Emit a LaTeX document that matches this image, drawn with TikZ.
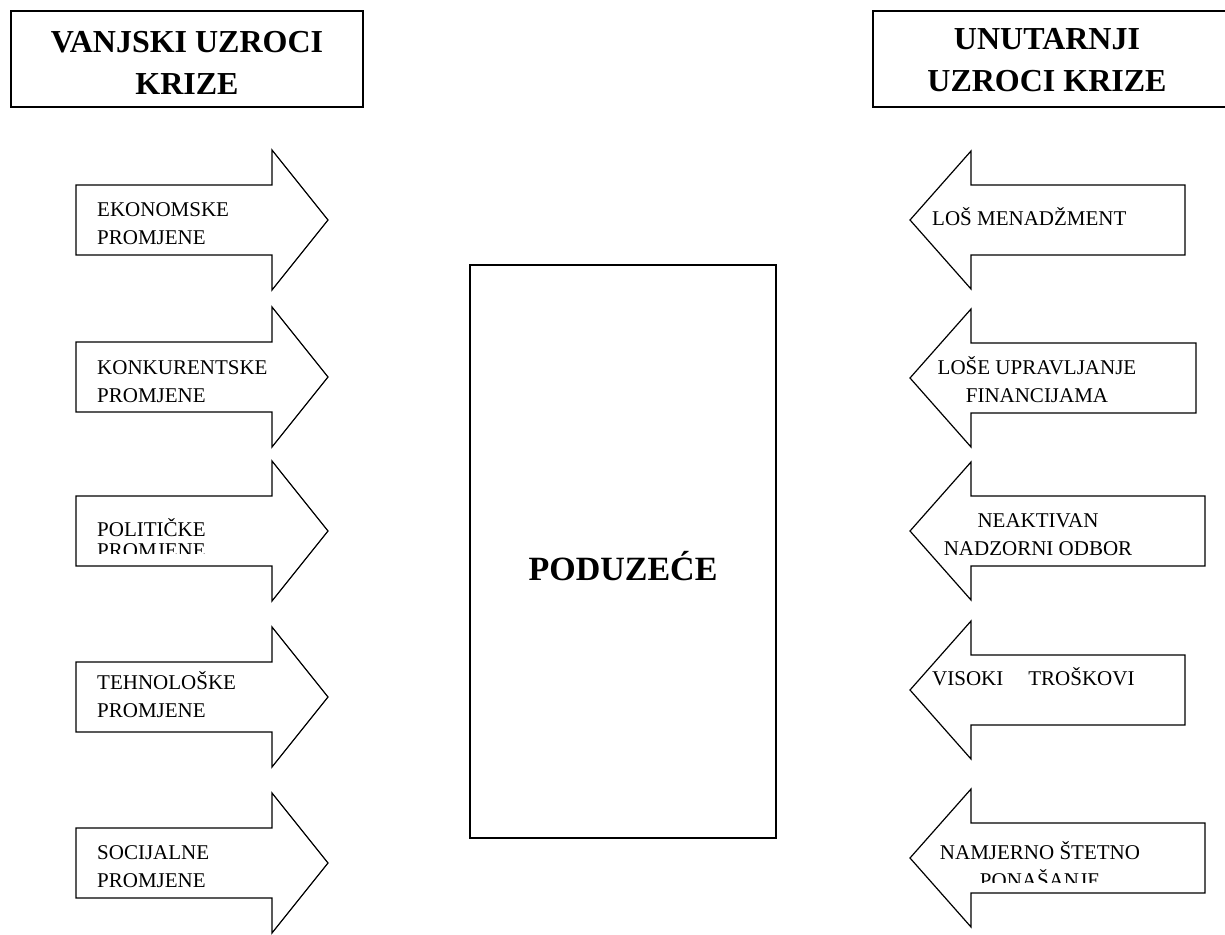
\documentclass[tikz,border=0pt]{standalone}
\usepackage{fontspec}
\setmainfont{Liberation Serif}
\usetikzlibrary{positioning}

\begin{document}
\begin{tikzpicture}[
  x=1pt, y=-1pt,
  titlebox/.style={rectangle, draw, line width=1.4pt, minimum width=352pt, minimum height=96pt},
  titletext/.style={font=\fontsize{32}{42}\selectfont\bfseries, align=center, inner sep=0pt, anchor=base},
  cause/.style={draw, line width=1.2pt, line join=miter},
  causetext/.style={font=\fontsize{21}{28}\selectfont, inner sep=0pt},
  firmbox/.style={rectangle, draw, line width=1.4pt, minimum width=306pt, minimum height=573pt}
]
\useasboundingbox (0,0) rectangle (1225,934);

% =======================================================
%                     HEADINGS
% =======================================================
\node[titlebox] (outer) at (187,59) {};
\node[titletext] (outerlabel) at (187,94) {VANJSKI UZROCI\\KRIZE};
\node[titlebox, minimum width=356pt] (inner) at (1051,59) {};
\node[titletext] (innerlabel) at (1047,92) {UNUTARNJI\\UZROCI KRIZE};

% =======================================================
%                     COMPANY
% =======================================================
\node[firmbox] (firm) at (623,551.5) {};
\node[font=\fontsize{34}{40}\selectfont\bfseries, inner sep=0pt, anchor=base] (firmlabel) at (623,580) {PODUZEĆE};

% =======================================================
%                     EXTERNAL CAUSES (left)
% =======================================================
\foreach \c in {220,377,531,697,863}
  \draw[cause] (76,\c-35) -- (272,\c-35) -- (272,\c-70) -- (328,\c)
    -- (272,\c+70) -- (272,\c+35) -- (76,\c+35) -- cycle;

\node[causetext, anchor=base west, align=left] (ext1) at (97,244) {EKONOMSKE\\PROMJENE};
\node[causetext, anchor=base west, align=left] (ext2) at (97,402) {KONKURENTSKE\\PROMJENE};
\begin{scope}
  \clip (0,0) rectangle (1225,553);
  \node[causetext, anchor=base west, align=left] (ext3) at (97,557) {POLITIČKE\\[-7pt]PROMJENE};
\end{scope}
\node[causetext, anchor=base west, align=left] (ext4) at (97,717) {TEHNOLOŠKE\\PROMJENE};
\node[causetext, anchor=base west, align=left] (ext5) at (97,887) {SOCIJALNE\\PROMJENE};

% =======================================================
%                     INTERNAL CAUSES (right)
% =======================================================
\foreach \c/\r in {220/1185,378/1196,531/1205,690/1185,858/1205}
  \draw[cause] (\r,\c-35) -- (971,\c-35) -- (971,\c-69) -- (910,\c)
    -- (971,\c+69) -- (971,\c+35) -- (\r,\c+35) -- cycle;

\node[causetext, anchor=base west] (int1) at (932,225) {LOŠ MENADŽMENT};
\node[causetext, anchor=base, align=center] (int2) at (1037,402) {LOŠE UPRAVLJANJE\\FINANCIJAMA};
\node[causetext, anchor=base, align=center] (int3) at (1038,555) {NEAKTIVAN\\NADZORNI ODBOR};
\node[causetext, anchor=base west] (int4) at (932,685) {VISOKI\hspace{25pt}TROŠKOVI};
\begin{scope}
  \clip (0,0) rectangle (1225,882);
  \node[causetext, anchor=base, align=center] (int5) at (1040,887) {NAMJERNO ŠTETNO\\PONAŠANJE};
\end{scope}

\end{tikzpicture}
\end{document}
